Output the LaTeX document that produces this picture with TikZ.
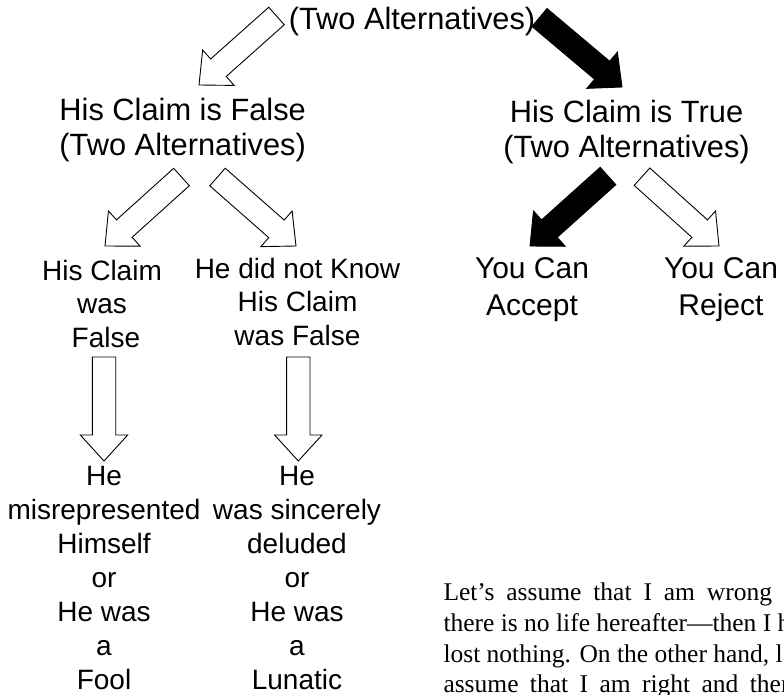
\documentclass[tikz,border=0pt]{standalone}
\usepackage{fontspec}
\setmainfont{Liberation Sans}
\newfontfamily\parafont{Liberation Serif}
\usetikzlibrary{calc}
\tikzset{
  lbl/.style={align=center, inner sep=0pt, anchor=base},
  fA/.style={font=\fontsize{30.8}{35}\selectfont},
  fB/.style={font=\fontsize{28}{33.5}\selectfont},
  fC/.style={font=\fontsize{30}{37}\selectfont},
  fD/.style={font=\fontsize{28}{34}\selectfont},
  para/.style={font=\parafont\fontsize{25.5}{30}\selectfont, inner sep=0pt, anchor=base west},
  hollowarrow/.style={draw=black, line width=0.9pt, fill=white, line join=miter},
  blackarrow/.style={draw=black, line width=0.9pt, fill=black, line join=miter},
}
\newcommand\blockarr[4]{%
  \coordinate (#1-h) at ($(#4)!26pt!(#3)$);
  \path[#2] ($(#3)!11.7pt!90:(#4)$) -- ($(#1-h)!11.7pt!90:(#4)$) -- ($(#1-h)!23.7pt!90:(#4)$) -- (#4)
    -- ($(#1-h)!23.7pt!-90:(#4)$) -- ($(#1-h)!11.7pt!-90:(#4)$) -- ($(#3)!11.7pt!-90:(#4)$) -- cycle;
}
\begin{document}
\begin{tikzpicture}[x=1pt, y=-1pt]
\useasboundingbox (0,0) rectangle (784,695);
\clip (0,0) rectangle (784,695);

% text nodes (anchored at the baseline of their last line)
\node[lbl, fA] (top) at (412,30) {(Two Alternatives)};
\node[lbl, fA] (false) at (182.7,156) {His Claim is False\\(Two Alternatives)};
\node[lbl, fA] (true) at (626.5,158) {His Claim is True\\(Two Alternatives)};
\node[lbl, fB] (wasfalse) at (102,347) {His Claim\\was\\\hspace*{7.8pt}False};
\node[lbl, fB] (notknow) at (297.5,345) {He did not Know\\His Claim\\was False};
\node[lbl, fC] (accept) at (532,315) {You Can\\Accept};
\node[lbl, fC] (reject) at (721,315) {You Can\\Reject};
\node[lbl, fD] (fool) at (104,689) {He\\misrepresented\\Himself\\or\\He was\\a\\Fool};
\node[lbl, fD] (lunatic) at (297,689) {He\\was sincerely\\deluded\\or\\He was\\a\\Lunatic};

% paragraph (cut by the right edge)
\node[para] (p1) at (443.3,600) {{\spaceskip=11.9pt Let’s assume that I am wrong}};
\node[para] (p2) at (443.3,631) {there is no life hereafter—then I h};
\node[para] (p3) at (443.3,662) {lost nothing. On the other hand, l};
\node[para] (p4) at (443.3,692) {{\spaceskip=11.4pt assume that I am right and ther}};

% arrow end points
\coordinate (a1t) at (276.5,16);  \coordinate (a1p) at (199,85);
\coordinate (a2t) at (539.5,17.5);\coordinate (a2p) at (622,87);
\coordinate (a3t) at (181.5,177); \coordinate (a3p) at (105,246);
\coordinate (a4t) at (217.5,177); \coordinate (a4p) at (296,246);
\coordinate (a5t) at (608,176);   \coordinate (a5p) at (530,246);
\coordinate (a6t) at (642,176.7); \coordinate (a6p) at (719,246);
\coordinate (v1t) at (104,357);   \coordinate (v1p) at (104,461);
\coordinate (v2t) at (298.3,357); \coordinate (v2p) at (298.3,461);

\blockarr{a1}{hollowarrow}{a1t}{a1p}
\blockarr{a2}{blackarrow}{a2t}{a2p}
\blockarr{a3}{hollowarrow}{a3t}{a3p}
\blockarr{a4}{hollowarrow}{a4t}{a4p}
\blockarr{a5}{blackarrow}{a5t}{a5p}
\blockarr{a6}{hollowarrow}{a6t}{a6p}
\blockarr{v1}{hollowarrow}{v1t}{v1p}
\blockarr{v2}{hollowarrow}{v2t}{v2p}
\end{tikzpicture}
\end{document}
